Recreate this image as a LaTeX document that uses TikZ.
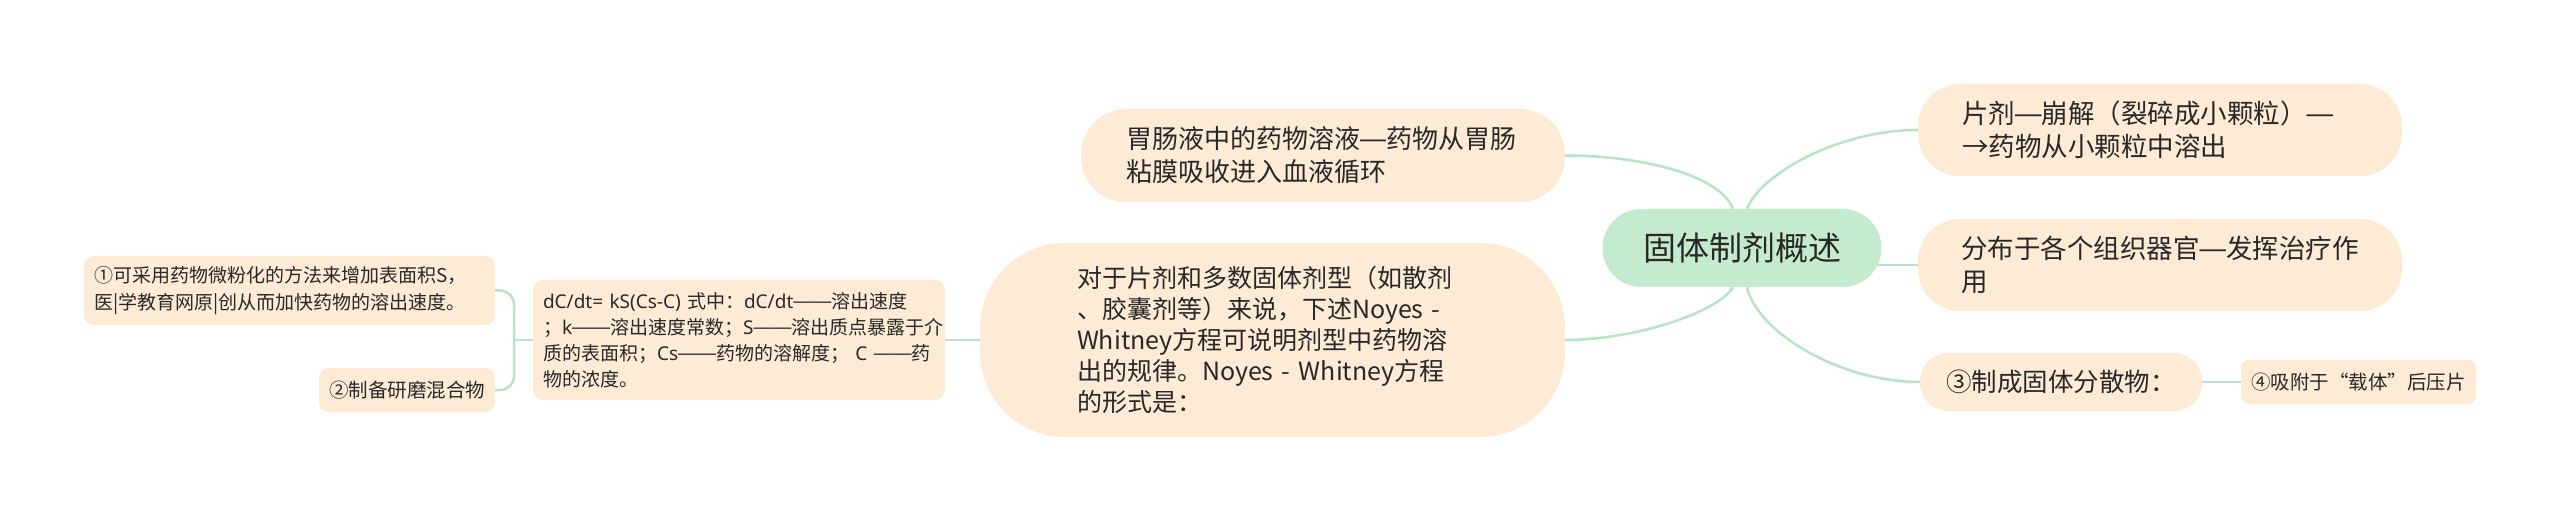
\documentclass[tikz,border=0pt]{standalone}
\usepackage{fontspec}
\setmainfont{Noto Sans CJK SC}
\newfontfamily\latf{Noto Sans}
\newfontfamily\dashf{Liberation Sans}
\usetikzlibrary{backgrounds,calc}
\definecolor{peach}{RGB}{253,235,214}
\definecolor{mint}{RGB}{197,235,206}
\definecolor{linec}{RGB}{184,228,198}
\definecolor{txt}{RGB}{40,40,40}
\newcommand\sdsh{\raisebox{0.06em}{\dashf —}}
\newcommand\ddsh{\raisebox{0.06em}{\dashf ——}}
\tikzset{
  box/.style={fill=peach, text=txt, inner sep=0pt, anchor=center},
  conn/.style={draw=linec, line width=2.5pt},
  bigfont/.style={font=\fontsize{26.5pt}{33pt}\selectfont},
  smallfont/.style={font=\fontsize{19pt}{26pt}\selectfont},
}
\begin{document}
\begin{tikzpicture}[x=1pt,y=-1pt]
\useasboundingbox (0,0) rectangle (2560,521);
% root
\node[box, fill=mint, rounded corners=39pt, minimum width=279pt, minimum height=78pt,
      font=\fontsize{33pt}{40pt}\selectfont] (root) at (1742,248) {固体制剂概述};
% right side
\node[box, bigfont, rounded corners=42pt, minimum width=484pt, minimum height=92pt,
      text width=396pt, align=left] (A) at (2160,130)
      {\mbox{片剂\sdsh 崩解（裂碎成小颗粒）\sdsh}\\\mbox{→药物从小颗粒中溶出}};
\node[box, bigfont, rounded corners=42pt, minimum width=484pt, minimum height=92pt,
      text width=398pt, align=left] (B) at (2160,265)
      {\mbox{分布于各个组织器官\sdsh 发挥治疗作}\\用};
\node[box, font=\fontsize{25.5pt}{32pt}\selectfont, rounded corners=28pt,
      minimum width=282pt, minimum height=58pt] (C) at (2061,382) {③制成固体分散物：};
\node[box, font=\fontsize{19.5pt}{26pt}\selectfont, rounded corners=8pt,
      minimum width=235pt, minimum height=44pt] (D) at (2358.5,382) {④吸附于“载体”后压片};
% left side
\node[box, font=\fontsize{26pt}{33pt}\selectfont, rounded corners=45pt, minimum width=484pt,
      minimum height=93pt, text width=394pt, align=left] (E) at (1323,155.5)
      {\mbox{胃肠液中的药物溶液\sdsh 药物从胃肠}\\\mbox{粘膜吸收进入血液循环}};
\node[box, font=\fontsize{25pt}{31pt}\selectfont, rounded corners=85pt, minimum width=585pt,
      minimum height=194pt, text width=391pt, align=left] (F) at (1272.5,340)
      {\mbox{对于片剂和多数固体剂型（如散剂}\\\mbox{、胶囊剂等）来说，下述Noyes -}\\\mbox{Whitney方程可说明剂型中药物溶}\\\mbox{出的规律。Noyes - Whitney方程}\\的形式是：};
\node[box, smallfont, rounded corners=10pt, minimum width=412pt, minimum height=120pt,
      text width=392pt, align=left] (G) at (739,340)
      {\mbox{{\latf dC/dt= kS(Cs-C) }式中：{\latf dC/dt}\ddsh 溶出速度}\\\mbox{；{\latf k}\ddsh 溶出速度常数；{\latf S}\ddsh 溶出质点暴露于介}\\\mbox{质的表面积；{\latf Cs}\ddsh 药物的溶解度；{\latf\ C }\ddsh 药}\\物的浓度。};
\node[box, font=\fontsize{19pt}{26.5pt}\selectfont, rounded corners=10pt, minimum width=411pt,
      minimum height=69pt, text width=391pt, align=left] (H) at (289.5,290.5)
      {\mbox{①可采用药物微粉化的方法来增加表面积S，}\\\mbox{医|学教育网原|创从而加快药物的溶出速度。}};
\node[box, font=\fontsize{19.5pt}{26pt}\selectfont, rounded corners=10pt,
      minimum width=176pt, minimum height=44pt] (I) at (407,390) {②制备研磨混合物};
\coordinate (J) at (514,340);
% connectors
\begin{scope}[on background layer]
  \fill[white] (0,0) rectangle (2560,521);
  \draw[conn] ([xshift=-9pt]root.north) .. controls +(-13,-34) and +(75,0) .. (E.east);
  \draw[conn] ([xshift=5pt]root.north) .. controls +(13,-34) and +(-80,0) .. (A.west);
  \draw[conn] (root.center |- B.west) -- (B.west);
  \draw[conn] ([xshift=5pt]root.south) .. controls +(10,45) and +(-80,0) .. (C.west);
  \draw[conn] ([xshift=-9pt]root.south) .. controls +(-15,25) and +(70,0) .. (F.east);
  \draw[conn] (C.east) -- (D.west);
  \draw[conn] (G.east) -- (F.west);
  \draw[conn] (G.west) -- (J);
  \draw[conn, rounded corners=14pt] (H.east) -| (J) |- (I.east);
\end{scope}
\end{tikzpicture}
\end{document}
